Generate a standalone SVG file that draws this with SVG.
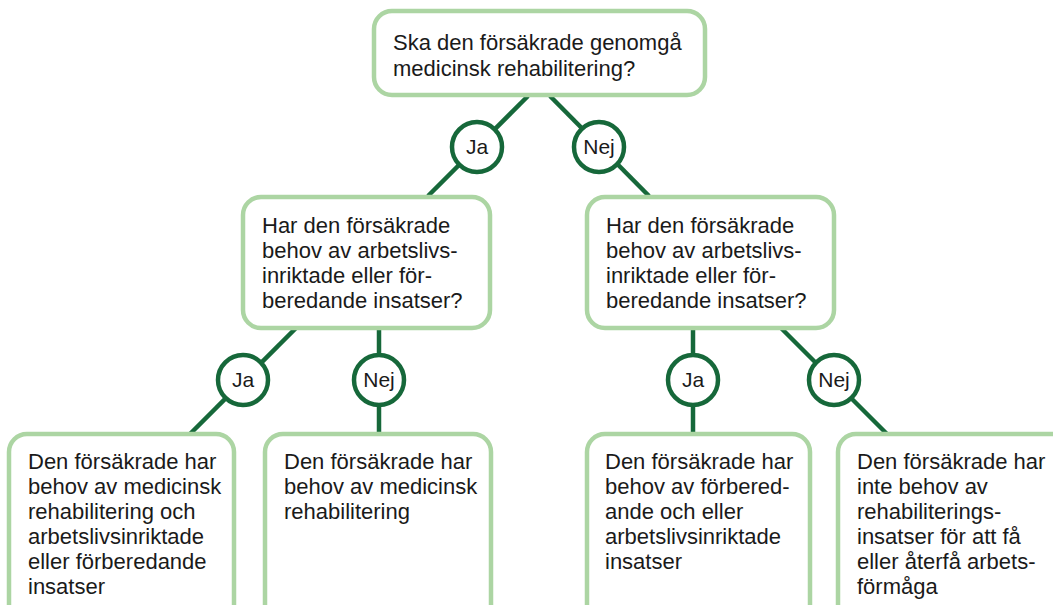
<svg xmlns="http://www.w3.org/2000/svg" width="1053" height="605" viewBox="0 0 1053 605">
<style>
.box{fill:#fff;stroke:#acd5a3;stroke-width:4.5}
.t{font-family:"Liberation Sans",Arial,sans-serif;font-size:22px;fill:#1a1a1a}
.c{fill:#fff;stroke:#16683a;stroke-width:4.5}
.ct{font-family:"Liberation Sans",Arial,sans-serif;font-size:21px;fill:#1a1a1a;text-anchor:middle}
.ln{stroke:#16683a;stroke-width:4.5;fill:none}
</style>
<rect width="1053" height="605" fill="#fff"/>
<g id="connectors">
<line class="ln" x1="528" y1="96" x2="428" y2="196"/>
<line class="ln" x1="550" y1="96" x2="649" y2="196"/>
<line class="ln" x1="296" y1="328" x2="190" y2="434"/>
<line class="ln" x1="379" y1="328" x2="379" y2="434"/>
<line class="ln" x1="693" y1="328" x2="693" y2="434"/>
<line class="ln" x1="781" y1="328" x2="887" y2="434"/>
</g>
<g id="n-root">
<rect class="box" x="374" y="11" width="331" height="84" rx="18"/>
<text class="t" x="393" y="50">Ska den försäkrade genomgå</text>
<text class="t" x="393" y="76">medicinsk rehabilitering?</text>
</g>
<g id="n-ja1"><circle class="c" cx="477" cy="147" r="25"/><text class="ct" x="477" y="154">Ja</text></g>
<g id="n-nej1"><circle class="c" cx="599" cy="147" r="25"/><text class="ct" x="599" y="154">Nej</text></g>
<g id="n-midleft">
<rect class="box" x="243" y="197" width="247" height="131" rx="18"/>
<text class="t" x="262" y="233">Har den försäkrade</text>
<text class="t" x="262" y="258">behov av arbetslivs-</text>
<text class="t" x="262" y="283">inriktade eller för-</text>
<text class="t" x="262" y="308">beredande insatser?</text>
</g>
<g id="n-midright">
<rect class="box" x="587" y="197" width="247" height="131" rx="18"/>
<text class="t" x="606" y="233">Har den försäkrade</text>
<text class="t" x="606" y="258">behov av arbetslivs-</text>
<text class="t" x="606" y="283">inriktade eller för-</text>
<text class="t" x="606" y="308">beredande insatser?</text>
</g>
<g id="n-ja2"><circle class="c" cx="243" cy="380" r="25"/><text class="ct" x="243" y="387">Ja</text></g>
<g id="n-nej2"><circle class="c" cx="379" cy="380" r="25"/><text class="ct" x="379" y="387">Nej</text></g>
<g id="n-ja3"><circle class="c" cx="693" cy="380" r="25"/><text class="ct" x="693" y="387">Ja</text></g>
<g id="n-nej3"><circle class="c" cx="834" cy="380" r="25"/><text class="ct" x="834" y="387">Nej</text></g>
<g id="n-leaf1">
<rect class="box" x="9" y="434" width="225" height="200" rx="18"/>
<text class="t" x="28" y="469">Den försäkrade har</text>
<text class="t" x="28" y="494">behov av medicinsk</text>
<text class="t" x="28" y="519">rehabilitering och</text>
<text class="t" x="28" y="544">arbetslivsinriktade</text>
<text class="t" x="28" y="569">eller förberedande</text>
<text class="t" x="28" y="594">insatser</text>
</g>
<g id="n-leaf2">
<rect class="box" x="265" y="434" width="226" height="200" rx="18"/>
<text class="t" x="284" y="469">Den försäkrade har</text>
<text class="t" x="284" y="494">behov av medicinsk</text>
<text class="t" x="284" y="519">rehabilitering</text>
</g>
<g id="n-leaf3">
<rect class="box" x="587" y="434" width="223" height="200" rx="18"/>
<text class="t" x="605" y="469">Den försäkrade har</text>
<text class="t" x="605" y="494">behov av förbered-</text>
<text class="t" x="605" y="519">ande och eller</text>
<text class="t" x="605" y="544">arbetslivsinriktade</text>
<text class="t" x="605" y="569">insatser</text>
</g>
<g id="n-leaf4">
<rect class="box" x="838" y="434" width="240" height="200" rx="18"/>
<text class="t" x="857" y="469">Den försäkrade har</text>
<text class="t" x="857" y="494">inte behov av</text>
<text class="t" x="857" y="519">rehabiliterings-</text>
<text class="t" x="857" y="544">insatser för att få</text>
<text class="t" x="857" y="569">eller återfå arbets-</text>
<text class="t" x="857" y="594">förmåga</text>
</g>
</svg>
